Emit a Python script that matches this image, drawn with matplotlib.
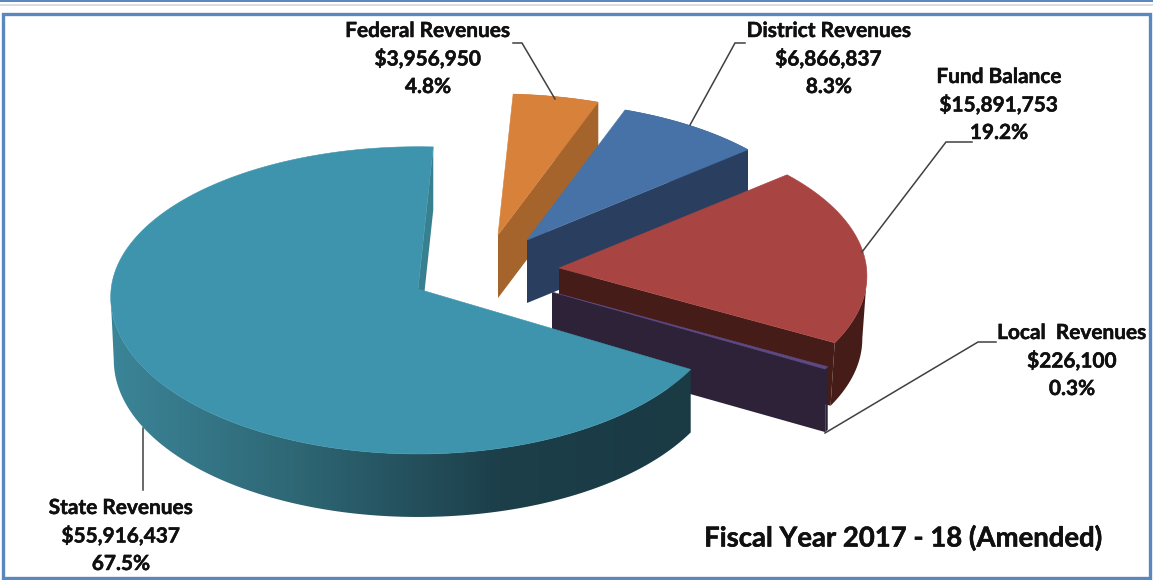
import numpy as np
import matplotlib
matplotlib.use("Agg")
import matplotlib.pyplot as plt
import matplotlib.patheffects as pe
from matplotlib.patches import Polygon, Rectangle
from matplotlib.colors import to_rgb

categories = ["State Revenues", "Local  Revenues", "Fund Balance", "District Revenues", "Federal Revenues"]
values = [55916437, 226100, 15891753, 6866837, 3956950]
percent_labels = ["67.5%", "0.3%", "19.2%", "8.3%", "4.8%"]
money_labels = ["$55,916,437", "$226,100", "$15,891,753", "$6,866,837", "$3,956,950"]
title_text = "Fiscal Year 2017 - 18 (Amended)"

# layout / style per slice
apex = [(418, 289), (552, 292), (559, 268), (527, 240), (498, 235)]
scale = [0.968, 0.97, 0.97, 0.94, 0.96]
below_scale = [1.045, 1.0, 1.0, 1.0, 1.0]
lower_x_scale = [0.99, 1.0, 0.985, 1.0, 1.0]
top_col = ["#3f94ad", "#5d4a85", "#a84441", "#4672a8", "#d8813b"]
side_col = ["#37808f", "#2d2238", "#451c18", "#2a3f5f", "#a5642b"]
label_xy = [(121, 508), (1072, 333), (999, 77), (829, 31), (428, 31)]
leaders = [[(143, 428), (143, 490)],
           [(996, 342), (978, 342), (825, 433)],
           [(972, 142), (946, 142), (862, 252)],
           [(745, 43), (735, 43), (690, 125)],
           [(513, 43), (522, 43), (555, 99)]]
START_DEG = 87.0
RX, RY, PERSP, DEPTH = 317.0, 154.6, 0.052, 63.0

W, H = 1153, 580
fig = plt.figure(figsize=(W / 100, H / 100), dpi=100, facecolor="white")
ax = fig.add_axes([0, 0, 1, 1])
FONT = "Lato"


def project(i, theta):
    th = np.radians(theta)
    X, Y = np.cos(th), np.sin(th)
    s = 1 / (1 + PERSP * Y)
    k = scale[i]
    ys = np.where(Y < 0, below_scale[i], 1.0)
    return apex[i][0] + RX * k * X * s, apex[i][1] - RY * k * Y * s * ys


fractions = np.array(values) / np.sum(values)
edges = START_DEG + 360 * np.concatenate([[0], np.cumsum(fractions)])

grad_x = np.array([110, 300, 500, 690])
grad_c = np.array([to_rgb(c) for c in ["#3b8598", "#2e6674", "#1c3f4a", "#1a3a44"]])
xx = np.linspace(100, 700, 600)
grad_img = np.stack([np.interp(xx, grad_x, grad_c[:, j]) for j in range(3)], axis=-1)[None, :, :]

# frame strips
ax.add_patch(Rectangle((0, 0), W, 2, fc="#5b87c0", ec="none"))
ax.add_patch(Rectangle((0, 4), W, 1.5, fc="#dddddd", ec="none"))
ax.add_patch(Rectangle((3, 13.5), W - 6, H - 16, fc="white", ec="#5b87c0", lw=2.4))

draw_order = [4, 3, 2, 1, 0]
for z, i in enumerate(draw_order):
    a0, a1 = edges[i], edges[i + 1]
    thetas = np.linspace(a0, a1, 360)
    xo, yo = project(i, thetas)
    ax0, ay0 = apex[i]
    zo = 2 + z * 5
    # lower rim of the slice
    if i == 0:
        xlow = np.where(xo < ax0, ax0 + (xo - ax0) * lower_x_scale[i], xo)
    else:
        xlow = ax0 + (xo - ax0) * lower_x_scale[i]
    ylow = yo + DEPTH
    # the visible wall runs only up to the silhouette of the slice
    if i == 0:
        vis = np.arange(np.argmin(xo), len(xo))
    elif i == 2:
        vis = np.arange(0, np.argmax(xo) + 1)
    else:
        vis = np.arange(len(xo))
    wall = list(zip(xo[vis], yo[vis])) + list(zip(xlow[vis][::-1], ylow[vis][::-1]))
    if i == 0:
        poly = Polygon(wall, fc="none", ec="none", zorder=zo)
        ax.add_patch(poly)
        im = ax.imshow(grad_img, extent=(100, 700, H, 0), aspect="auto",
                       interpolation="bilinear", zorder=zo)
        im.set_clip_path(poly)
    else:
        ax.add_patch(Polygon(wall, fc=side_col[i], ec="none", zorder=zo))
    ax.add_patch(Polygon([(ax0, ay0), (xo[0], yo[0]), (xlow[0], ylow[0]), (ax0, ay0 + DEPTH)],
                         fc=side_col[i], ec="none", zorder=zo))
    top = [(ax0, ay0)] + list(zip(xo, yo))
    ax.add_patch(Polygon(top, fc=top_col[i], ec=top_col[i], lw=0.4, zorder=zo + 1))

ax.set_xlim(0, W)
ax.set_ylim(H, 0)
ax.axis("off")

stroke = [pe.withStroke(linewidth=0.35, foreground="#101010")]
for i in range(len(categories)):
    xs, ys = zip(*leaders[i])
    ax.plot(xs, ys, color="#404040", lw=1.1, zorder=1 if i == 0 else 40, solid_joinstyle="miter")
    x, y = label_xy[i]
    for t, dy in zip([categories[i], money_labels[i], percent_labels[i]], [0, 28, 56]):
        ax.text(x, y + dy, t, ha="center", va="center", fontsize=15.0, fontweight="bold",
                family=FONT, color="#101010", zorder=50, path_effects=stroke)

ax.text(903, 538, title_text, ha="center", va="center", fontsize=19.8, fontweight="bold",
        family=FONT, color="#101010", zorder=50, path_effects=stroke)

fig.savefig("out.png", dpi=100, facecolor="white")
